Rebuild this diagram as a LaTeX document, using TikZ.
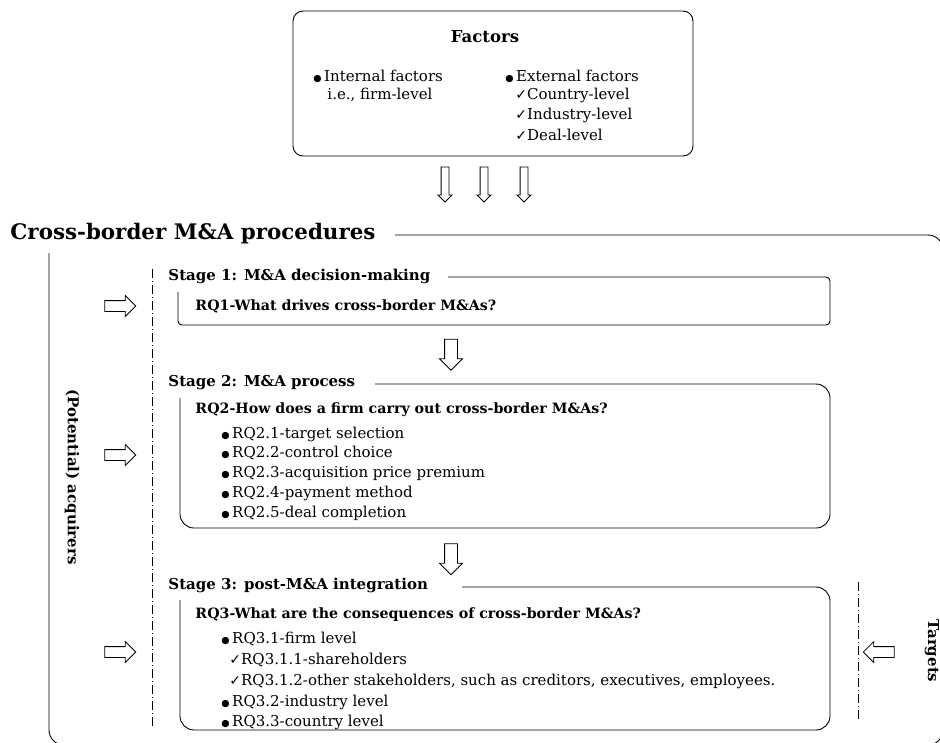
\documentclass[tikz,border=0pt]{standalone}
\usepackage{fontspec}
\setmainfont{DejaVu Serif}
\newfontfamily\symfont{DejaVu Sans}
\usetikzlibrary{shapes.arrows}
\newcommand{\bodyfont}{\fontsize{15}{18}\selectfont}
\newcommand{\headfont}{\fontsize{14.2}{17}\selectfont\bfseries}
\newcommand{\stagefont}{\fontsize{15}{18}\selectfont\bfseries}
\newcommand{\procfont}{\fontsize{21.4}{25}\selectfont\bfseries}
\newcommand{\bul}{{\symfont\fontsize{9.5}{9.5}\selectfont ●}\,}
\newcommand{\chk}{{\symfont\fontsize{14}{14}\selectfont ✓}}
\begin{document}
\begin{tikzpicture}[x=1pt,y=-1pt,line width=0.9pt,
    every node/.style={inner sep=0pt,font=\bodyfont},
    txt/.style={anchor=west},
    hd/.style={anchor=west,font=\headfont},
    stagelab/.style={anchor=west,font=\stagefont},
    dashdot/.style={line width=0.7pt,dash pattern=on 9pt off 3pt on 1pt off 3pt},
    rarr/.style={draw,line width=0.8pt,single arrow,inner ysep=5pt,minimum height=31,single arrow head extend=5pt},
    farr/.style={draw,line width=0.8pt,single arrow,inner ysep=3.5pt,minimum height=35,single arrow head extend=3pt,rotate=-90},
    darr/.style={draw,line width=0.8pt,single arrow,inner ysep=6pt,minimum height=31,single arrow head extend=5pt,rotate=-90}]
    \useasboundingbox (0,0) rectangle (940,742);
    \clip (0,0) rectangle (940,742);

    \node[draw,rounded corners=10,minimum width=400,minimum height=145] (factors) at (493,83.5) {};
    \node[font=\fontsize{16.5}{19}\selectfont\bfseries] (factitle) at (485,37) {Factors};
    \node[txt] (internal) at (313,76) {\bul Internal factors};
    \node[txt] (firm) at (327,95) {i.e., firm-level};
    \node[txt] (external) at (505,76) {\bul External factors};
    \node[txt] (country) at (515,95) {\chk Country-level};
    \node[txt] (industry) at (515,115) {\chk Industry-level};
    \node[txt] (deal) at (515,135) {\chk Deal-level};
    \foreach \x/\n in {445/fa,484/fb,524/fc}
        \node[farr] (\n) at (\x,182.5) {};

    \node[anchor=west,font=\procfont] (procs) at (10,234) {Cross-border M\&A procedures};
    \draw[rounded corners=15] (395,235) -- (943,235) -- (943,745) -- (49,745) -- (49,253);
    \node[font=\stagefont,rotate=-90] (acq) at (72,477) {(Potential) acquirers};
    \node[font=\stagefont,rotate=-90] (tgt) at (932,651) {Targets};
    \draw[dashdot] (152,269) -- (152,728);
    \draw[dashdot] (858,582) -- (858,720);

    \node[rarr] (a1) at (117.5,306) {};
    \node[rarr] (a2) at (117.5,455) {};
    \node[rarr] (a3) at (117.5,652) {};
    \node[rarr,rotate=180] (t3) at (881.5,652) {};
    \node[darr] (d12) at (451,351.5) {};
    \node[darr] (d23) at (451,556) {};

    \node[stagelab] (s1) at (168,276) {Stage 1: M\&A decision-making};
    \draw[rounded corners=4] (448,277) -- (830,277) -- (830,325) -- (178,325) -- (178,292);
    \node[hd] (rq1) at (195,306) {RQ1-What drives cross-border M\&As?};

    \node[stagelab] (s2) at (168,383) {Stage 2: M\&A process};
    \draw[rounded corners=14] (375,384) -- (830,384) -- (830,528) -- (180,528) -- (180,398);
    \node[hd] (rq2) at (195,410) {RQ2-How does a firm carry out cross-border M\&As?};
    \node[txt] (rq21) at (221,434) {\bul RQ2.1-target selection};
    \node[txt] (rq22) at (221,453) {\bul RQ2.2-control choice};
    \node[txt] (rq23) at (221,473) {\bul RQ2.3-acquisition price premium};
    \node[txt] (rq24) at (221,493) {\bul RQ2.4-payment method};
    \node[txt] (rq25) at (221,513) {\bul RQ2.5-deal completion};

    \node[stagelab] (s3) at (168,585) {Stage 3: post-M\&A integration};
    \draw[rounded corners=14] (462,587) -- (830,587) -- (830,730) -- (180,730) -- (180,600);
    \node[hd] (rq3) at (195,615) {RQ3-What are the consequences of cross-border M\&As?};
    \node[txt] (rq31) at (221,639) {\bul RQ3.1-firm level};
    \node[txt] (rq311) at (229,660) {\chk RQ3.1.1-shareholders};
    \node[txt] (rq312) at (229,681) {\chk RQ3.1.2-other stakeholders, such as creditors, executives, employees.};
    \node[txt] (rq32) at (221,702) {\bul RQ3.2-industry level};
    \node[txt] (rq33) at (221,722) {\bul RQ3.3-country level};
\end{tikzpicture}
\end{document}
